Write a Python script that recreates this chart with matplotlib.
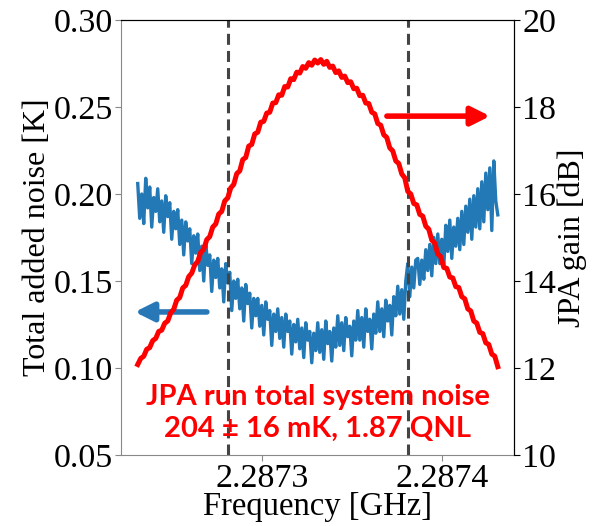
import matplotlib
matplotlib.use("Agg")
import matplotlib.pyplot as plt
import numpy as np

plt.rcParams['font.family'] = ['Liberation Serif', 'DejaVu Serif']

# frequency sweeps [GHz]
f_start, f_stop = 2.287231, 2.287431
n_noise, n_gain = 181, 121

# total added noise [K]
noise = [
    0.206, 0.186, 0.200, 0.183, 0.209, 0.192, 0.204, 0.181, 0.198, 0.190,
    0.203, 0.184, 0.196, 0.178, 0.199, 0.187, 0.195, 0.174, 0.190, 0.180,
    0.191, 0.171, 0.185, 0.165, 0.184, 0.173, 0.180, 0.160, 0.176, 0.166,
    0.177, 0.156, 0.170, 0.150, 0.172, 0.159, 0.165, 0.144, 0.162, 0.152,
    0.163, 0.146, 0.157, 0.138, 0.160, 0.149, 0.155, 0.133, 0.150, 0.140,
    0.151, 0.134, 0.146, 0.127, 0.148, 0.137, 0.143, 0.123, 0.140, 0.130,
    0.140, 0.124, 0.136, 0.119, 0.138, 0.128, 0.133, 0.113, 0.131, 0.121,
    0.134, 0.117, 0.129, 0.112, 0.131, 0.121, 0.127, 0.108, 0.125, 0.115,
    0.128, 0.111, 0.123, 0.106, 0.126, 0.116, 0.121, 0.103, 0.120, 0.110,
    0.126, 0.109, 0.122, 0.105, 0.127, 0.114, 0.121, 0.104, 0.123, 0.112,
    0.130, 0.113, 0.126, 0.110, 0.129, 0.118, 0.124, 0.107, 0.127, 0.116,
    0.133, 0.116, 0.129, 0.112, 0.134, 0.121, 0.128, 0.111, 0.131, 0.120,
    0.138, 0.121, 0.134, 0.118, 0.139, 0.127, 0.136, 0.119, 0.141, 0.130,
    0.147, 0.131, 0.145, 0.128, 0.150, 0.160, 0.141, 0.158, 0.146, 0.162,
    0.163, 0.148, 0.162, 0.151, 0.168, 0.156, 0.171, 0.153, 0.175, 0.160,
    0.177, 0.160, 0.174, 0.158, 0.182, 0.167, 0.185, 0.163, 0.181, 0.170,
    0.186, 0.168, 0.190, 0.171, 0.193, 0.178, 0.197, 0.174, 0.199, 0.181,
    0.203, 0.180, 0.207, 0.184, 0.212, 0.191, 0.215, 0.179, 0.219, 0.196,
    0.188]

# JPA gain [dB]
gain = [
    12.08, 12.22, 12.27, 12.43, 12.47, 12.63, 12.68, 12.84, 12.87, 13.03,
    13.08, 13.27, 13.35, 13.56, 13.62, 13.84, 13.90, 14.10, 14.18, 14.37,
    14.45, 14.66, 14.73, 14.95, 15.02, 15.24, 15.31, 15.54, 15.60, 15.84,
    15.91, 16.14, 16.22, 16.47, 16.53, 16.79, 16.84, 17.10, 17.14, 17.38,
    17.42, 17.65, 17.67, 17.86, 17.88, 18.09, 18.10, 18.28, 18.27, 18.47,
    18.46, 18.65, 18.63, 18.80, 18.78, 18.93, 18.89, 19.02, 18.96, 19.08,
    19.01, 19.09, 18.98, 19.05, 18.91, 18.94, 18.79, 18.83, 18.68, 18.71,
    18.56, 18.58, 18.42, 18.43, 18.26, 18.27, 18.09, 18.08, 17.88, 17.84,
    17.62, 17.58, 17.36, 17.30, 17.06, 16.99, 16.76, 16.70, 16.46, 16.37,
    16.06, 16.00, 15.78, 15.75, 15.53, 15.49, 15.26, 15.19, 14.94, 14.87,
    14.62, 14.56, 14.31, 14.29, 14.09, 14.07, 13.87, 13.85, 13.64, 13.59,
    13.36, 13.31, 13.08, 13.03, 12.82, 12.79, 12.58, 12.54, 12.32, 12.27,
    12.03]

band_edges = [2.287281, 2.287381]
xticks = [2.2873, 2.2874]
xtick_labels = ['2.2873', '2.2874']
yticks_noise = [0.05, 0.10, 0.15, 0.20, 0.25, 0.30]
yticks_gain = [10, 12, 14, 16, 18, 20]

freq_noise = np.linspace(f_start, f_stop, n_noise)
freq_gain = np.linspace(f_start, f_stop, n_gain)

fig = plt.figure(figsize=(5.96, 5.26), dpi=100)
ax = fig.add_axes([0.203, 0.135, 0.6594, 0.827])
ax2 = ax.twinx()

ax.plot(freq_noise, noise, color='#2279b5', lw=2.4)
ax2.plot(freq_gain, gain, color='#ff0000', lw=3.6)

for fe in band_edges:
    ax.axvline(fe, color='#444444', ls=(0, (3.6, 2.0)), lw=2.2)

ax.set_xlim(2.2872217, 2.28744)
ax.set_ylim(0.05, 0.30)
ax2.set_ylim(10, 20)
ax.set_xticks(xticks)
ax.set_xticklabels(xtick_labels)
ax.set_yticks(yticks_noise)
ax.set_yticklabels(['%.2f' % v for v in yticks_noise])
ax2.set_yticks(yticks_gain)

ax.tick_params(labelsize=24.5, length=4, width=0.8, direction='out',
               color='#888888', pad=2)
ax2.tick_params(labelsize=24.5, length=4, width=0.8, direction='out', pad=2)
ax.set_xlabel('Frequency [GHz]', fontsize=23.5, labelpad=-2)
ax.set_ylabel('Total added noise [K]', fontsize=23, labelpad=1)
ax2.set_ylabel('JPA gain [dB]', fontsize=23, labelpad=1)

for s in ['left', 'bottom']:
    ax.spines[s].set_color('#888888')
    ax2.spines[s].set_visible(False)

# direction arrows
ax2.annotate('', xy=(2.2874267, 17.79), xytext=(2.2873694, 17.79),
             arrowprops=dict(arrowstyle='-|>', color='#ff0000', lw=4,
                             mutation_scale=28, shrinkA=0, shrinkB=0))
ax.annotate('', xy=(2.2872294, 0.1322), xytext=(2.2872694, 0.1322),
            arrowprops=dict(arrowstyle='-|>', color='#2878b8', lw=4,
                            mutation_scale=28, shrinkA=0, shrinkB=0))

ax2.text(0.5, 0.097, 'JPA run total system noise\n204 \u00b1 16 mK, 1.87 QNL',
         transform=ax.transAxes, ha='center', va='center', color='#ff0000',
         fontsize=21, fontweight='bold', family=['Lato', 'DejaVu Sans'],
         linespacing=1.25)

fig.savefig('out.png', dpi=100)
